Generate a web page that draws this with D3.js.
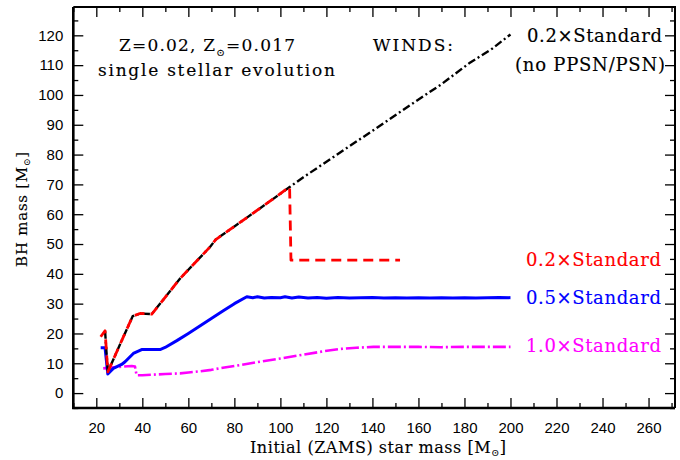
<!DOCTYPE html>
<html>
<head>
<meta charset="utf-8">
<script src="https://cdn.jsdelivr.net/npm/d3@7"></script>
<style>
html,body{margin:0;padding:0;background:#fff;}
svg{display:block;}
</style>
</head>
<body>
<svg id="chart" width="680" height="460"></svg>
<script>
// ---- data ----
const xMajorTicks = [20, 40, 60, 80, 100, 120, 140, 160, 180, 200, 220, 240, 260];
const yMajorTicks = [0, 10, 20, 30, 40, 50, 60, 70, 80, 90, 100, 110, 120];

// 0.2 x Standard, no PPSN/PSN (black dash-dot)
const blackMass = [23.8, 25, 30, 35.8, 39, 44.1, 50, 56.5, 63, 69.4, 71.9, 78, 85, 95, 104.2, 110, 125, 142, 156, 170, 182, 192, 200];
const blackBH   = [20.9, 7.1, 15.8, 25.8, 26.7, 26.5, 32.2, 38.5, 43.8, 49, 51.5, 54.8, 58.6, 64.1, 69.2, 72.4, 80.2, 89, 96.4, 103.6, 110.6, 115.5, 120.3];

// 0.2 x Standard (red dashed)
const redMass = [21.9, 23.8, 25, 30, 35.8, 39, 44.1, 50, 56.5, 63, 69.4, 71.9, 78, 85, 95, 104.0, 104.6, 152];
const redBH   = [18.9, 20.9, 7.1, 15.8, 25.8, 26.7, 26.5, 32.2, 38.5, 43.8, 49, 51.5, 54.8, 58.6, 64.1, 69.2, 44.6, 44.6];

// 0.5 x Standard (blue solid)
const blueMass = [21.9, 23.8, 25, 27.4, 31, 32.5, 36.1, 39.7, 47.7, 49.9, 55, 60, 65, 70, 75, 80, 85.4, 88, 90, 93, 96, 100, 102, 105, 108, 112, 116, 120, 125, 130, 135, 140, 145, 150, 155, 160, 165, 170, 175, 180, 185, 190, 195, 200];
const blueBH   = [15.2, 15.2, 6.4, 8.3, 9.6, 10.5, 13.3, 14.6, 14.6, 15.3, 17.6, 20, 22.5, 25, 27.5, 30, 32.3, 32.0, 32.3, 31.9, 32.1, 32.0, 32.3, 31.9, 32.2, 31.9, 32.1, 31.8, 32.1, 31.9, 32.0, 32.1, 31.9, 32.0, 31.9, 32.0, 31.9, 32.0, 31.9, 32.0, 31.9, 32.0, 32.1, 32.0];

// 1.0 x Standard (magenta dash-dot)
const magentaMass = [23, 30, 35.4, 36.8, 37.5, 40, 45, 50, 56.4, 60, 65, 70, 75, 82.4, 90, 100, 110, 120.2, 126, 133, 140.4, 150, 160, 170, 180, 190, 200];
const magentaBH   = [8.3, 8.8, 9.1, 8.9, 6.0, 6.0, 6.2, 6.4, 6.6, 6.9, 7.3, 7.8, 8.5, 9.4, 10.4, 11.6, 12.9, 14.2, 14.8, 15.2, 15.5, 15.5, 15.5, 15.4, 15.5, 15.5, 15.5];

const seriesLabels = ["0.2×Standard", "0.5×Standard", "1.0×Standard"];

// ---- drawing ----
const svg = d3.select("#chart");
const x = d3.scaleLinear().domain([10, 271.5]).range([73.3, 675]);
const y = d3.scaleLinear().domain([-5, 129.5]).range([408, 7]);
const X0 = x.range()[0], X1 = x.range()[1], Y0 = y.range()[0], Y1 = y.range()[1];

const sansFont = "'Liberation Sans', Arial, sans-serif";
const serifFont = "'DejaVu Serif', serif";

function styleAxis(g) {
  g.select(".domain").remove();
  g.selectAll(".tick line").attr("stroke", "#000").attr("stroke-width", 1.3);
  g.selectAll("text").attr("font-family", sansFont).attr("font-size", 15).attr("fill", "#000");
}
const xMinor = d3.range(10, 272, 10).filter(v => !xMajorTicks.includes(v));
const yMinor = d3.range(-5, 130, 5).filter(v => !yMajorTicks.includes(v));

// bottom
svg.append("g").attr("transform", `translate(0,${Y0})`)
  .call(d3.axisBottom(x).tickValues(xMajorTicks).tickSize(-10).tickPadding(14).tickFormat(d3.format("d")))
  .call(styleAxis);
svg.append("g").attr("transform", `translate(0,${Y0})`)
  .call(d3.axisBottom(x).tickValues(xMinor).tickSize(-5).tickFormat(""))
  .call(styleAxis);
// top
svg.append("g").attr("transform", `translate(0,${Y1})`)
  .call(d3.axisTop(x).tickValues(xMajorTicks).tickSize(-10).tickFormat(""))
  .call(styleAxis);
svg.append("g").attr("transform", `translate(0,${Y1})`)
  .call(d3.axisTop(x).tickValues(xMinor).tickSize(-5).tickFormat(""))
  .call(styleAxis);
// left
svg.append("g").attr("transform", `translate(${X0},0)`)
  .call(d3.axisLeft(y).tickValues(yMajorTicks).tickSize(-10).tickPadding(10).tickFormat(d3.format("d")))
  .call(styleAxis);
svg.append("g").attr("transform", `translate(${X0},0)`)
  .call(d3.axisLeft(y).tickValues(yMinor).tickSize(-5).tickFormat(""))
  .call(styleAxis);
// right
svg.append("g").attr("transform", `translate(${X1},0)`)
  .call(d3.axisRight(y).tickValues(yMajorTicks).tickSize(-10).tickFormat(""))
  .call(styleAxis);
svg.append("g").attr("transform", `translate(${X1},0)`)
  .call(d3.axisRight(y).tickValues(yMinor).tickSize(-5).tickFormat(""))
  .call(styleAxis);

// frame
svg.append("path").attr("fill", "none").attr("stroke", "#000").attr("stroke-width", 2.6)
  .attr("d", `M${X0},${Y1}L${X0},${Y0}L${X1},${Y0}`);
svg.append("path").attr("fill", "none").attr("stroke", "#000").attr("stroke-width", 2)
  .attr("d", `M${X0},${Y1}L${X1},${Y1}L${X1},${Y0}`);

// lines
const line = d3.line().x(d => x(d[0])).y(d => y(d[1]));
function draw(mass, bh, color, width, dash) {
  svg.append("path").datum(d3.zip(mass, bh))
    .attr("fill", "none").attr("stroke", color).attr("stroke-width", width)
    .attr("stroke-dasharray", dash).attr("stroke-linejoin", "round")
    .attr("d", line);
}
draw(magentaMass, magentaBH, "#ff00ff", 2.6, "13,3,2,3");
draw(blueMass, blueBH, "#0000ff", 3, null);
draw(blackMass, blackBH, "#000000", 2.4, "8,3,2,3");
draw(redMass, redBH, "#ff0000", 2.8, "10,6");

// text helpers
function fit(t, width) {
  const n = t.text().length;
  const w = t.node().getComputedTextLength();
  t.attr("letter-spacing", ((width - w) / Math.max(n - 1, 1)).toFixed(3));
  return t;
}
function label(txt, px, py, size, color, width) {
  const t = svg.append("text").attr("x", px).attr("y", py)
    .attr("font-family", serifFont).attr("font-size", size).attr("fill", color)
    .attr("stroke", color).attr("stroke-width", 0.15).text(txt);
  if (width) fit(t, width);
  return t;
}
// labels with solar subscript
function solarLabel(parts, px, py, size, width, rotate, subShift) {
  const t = svg.append("text").attr("font-family", serifFont).attr("font-size", size).attr("fill", "#000")
    .attr("stroke", "#000").attr("stroke-width", 0.12);
  if (rotate) t.attr("transform", `translate(${px},${py}) rotate(-90)`).attr("text-anchor", "middle");
  else t.attr("x", px).attr("y", py);
  parts.forEach(p => {
    const s = t.append("tspan").text(p.t);
    if (p.sub) s.attr("font-size", size * 0.6).attr("dy", size * subShift);
    if (p.up) s.attr("dy", -size * subShift);
  });
  const n = parts.reduce((a, p) => a + p.t.length, 0);
  const w = t.node().getComputedTextLength();
  if (width) t.attr("letter-spacing", ((width - w) / (n - 1)).toFixed(3));
  return t;
}

solarLabel([{t: "Z=0.02, Z"}, {t: "⊙", sub: true}, {t: "=0.017", up: true}], 119, 51, 17, 176, false, 0.3);
label("single stellar evolution", 98, 76, 17, "#000", 237);
label("WINDS:", 373, 51, 17, "#000", 80);
label(seriesLabels[0], 527, 42, 18, "#000", 135);
label("(no PPSN/PSN)", 515, 71, 18, "#000", 150);
label(seriesLabels[0], 526, 266, 18, "#ff0000", 135);
label(seriesLabels[1], 526, 304, 18, "#0000ff", 135);
label(seriesLabels[2], 526, 352, 18, "#ff00ff", 135);

solarLabel([{t: "Initial (ZAMS) star mass [M"}, {t: "⊙", sub: true}, {t: "]", up: true}], 250, 453, 16, 256, false, 0.18);
solarLabel([{t: "BH mass [M"}, {t: "⊙", sub: true}, {t: "]", up: true}], 26.5, 209, 15, 115, true, 0.25);
</script>
</body>
</html>
